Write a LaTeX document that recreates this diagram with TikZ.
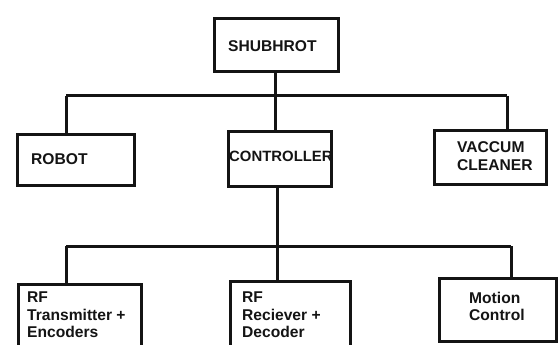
\documentclass[tikz,border=0pt]{standalone}
\usepackage{fontspec}
\setmainfont{Liberation Sans}
\usepackage{xcolor}
\usetikzlibrary{positioning,calc}
\definecolor{inkblack}{HTML}{141414}
\tikzset{
  treebox/.style={
    rectangle, draw=inkblack, line width=3pt,
    anchor=north west, inner sep=0pt, outer sep=0pt
  },
  boxtext/.style={
    anchor=north west, inner sep=0pt, align=left, text=inkblack,
    font=\fontsize{15.6}{17.6}\selectfont\bfseries
  },
  treeline/.style={
    draw=inkblack, line width=3pt
  },
}
\begin{document}
\begin{tikzpicture}[x=1pt, y=-1pt]
  \path[use as bounding box, clip] (0,0) rectangle (560,345);
  \fill[white] (0,0) rectangle (560,345);

  % Top level
  \node[treebox, minimum width=124pt, minimum height=53pt] (shub) at (214.5,18.5) {};
  \node[boxtext] (shubtxt) at (228,40.8) {SHUBHROT};

  % Second level
  \node[treebox, minimum width=117pt, minimum height=51pt] (robot) at (17.5,134.5) {};
  \node[boxtext] (robottxt) at (31,153.8) {ROBOT};
  \node[treebox, minimum width=103pt, minimum height=55pt] (ctrl) at (228.5,131.5) {};
  \node[boxtext, font=\fontsize{14.9}{17.6}\selectfont\bfseries] (ctrltxt) at (229,151.2) {CONTROLLER};
  \node[treebox, minimum width=112pt, minimum height=54pt] (vac) at (434.5,130.5) {};
  \node[boxtext] (vactxt) at (457,141.8) {VACCUM\\CLEANER};

  % Third level
  \node[treebox, minimum width=123pt, minimum height=85pt] (tx) at (18.5,284.5) {};
  \node[boxtext] (txtxt) at (27,291.8) {RF\\Transmitter +\\Encoders};
  \node[treebox, minimum width=120pt, minimum height=89pt] (rx) at (230.5,281.5) {};
  \node[boxtext] (rxtxt) at (242,291.8) {RF\\Reciever +\\Decoder};
  \node[treebox, minimum width=117pt, minimum height=63pt] (motion) at (439.5,278.5) {};
  \node[boxtext] (motiontxt) at (469,291.8) {Motion\\Control};

  % Upper bus
  \coordinate (busAL) at (66,96);
  \coordinate (busAR) at (507,96);
  \draw[treeline] (busAL) -- (busAR);
  \draw[treeline] (shub.south) ++(-1.5,0) coordinate (shubdrop) -- (shubdrop |- busAL);
  \draw[treeline] (busAL) -- (busAL |- robot.north);
  \draw[treeline] (shubdrop |- busAL) -- (shubdrop |- ctrl.north);
  \draw[treeline] (busAR) -- (busAR |- vac.north);

  % Lower bus
  \coordinate (busBL) at (66,246);
  \coordinate (busBR) at (511,246);
  \draw[treeline] (busBL) -- (busBR);
  \draw[treeline] (ctrl.south) ++(-3,0) coordinate (ctrldrop) -- (ctrldrop |- busBL);
  \draw[treeline] (busBL) -- (busBL |- tx.north);
  \draw[treeline] (ctrldrop |- busBL) -- (ctrldrop |- rx.north);
  \draw[treeline] (busBR) -- (busBR |- motion.north);
\end{tikzpicture}
\end{document}
